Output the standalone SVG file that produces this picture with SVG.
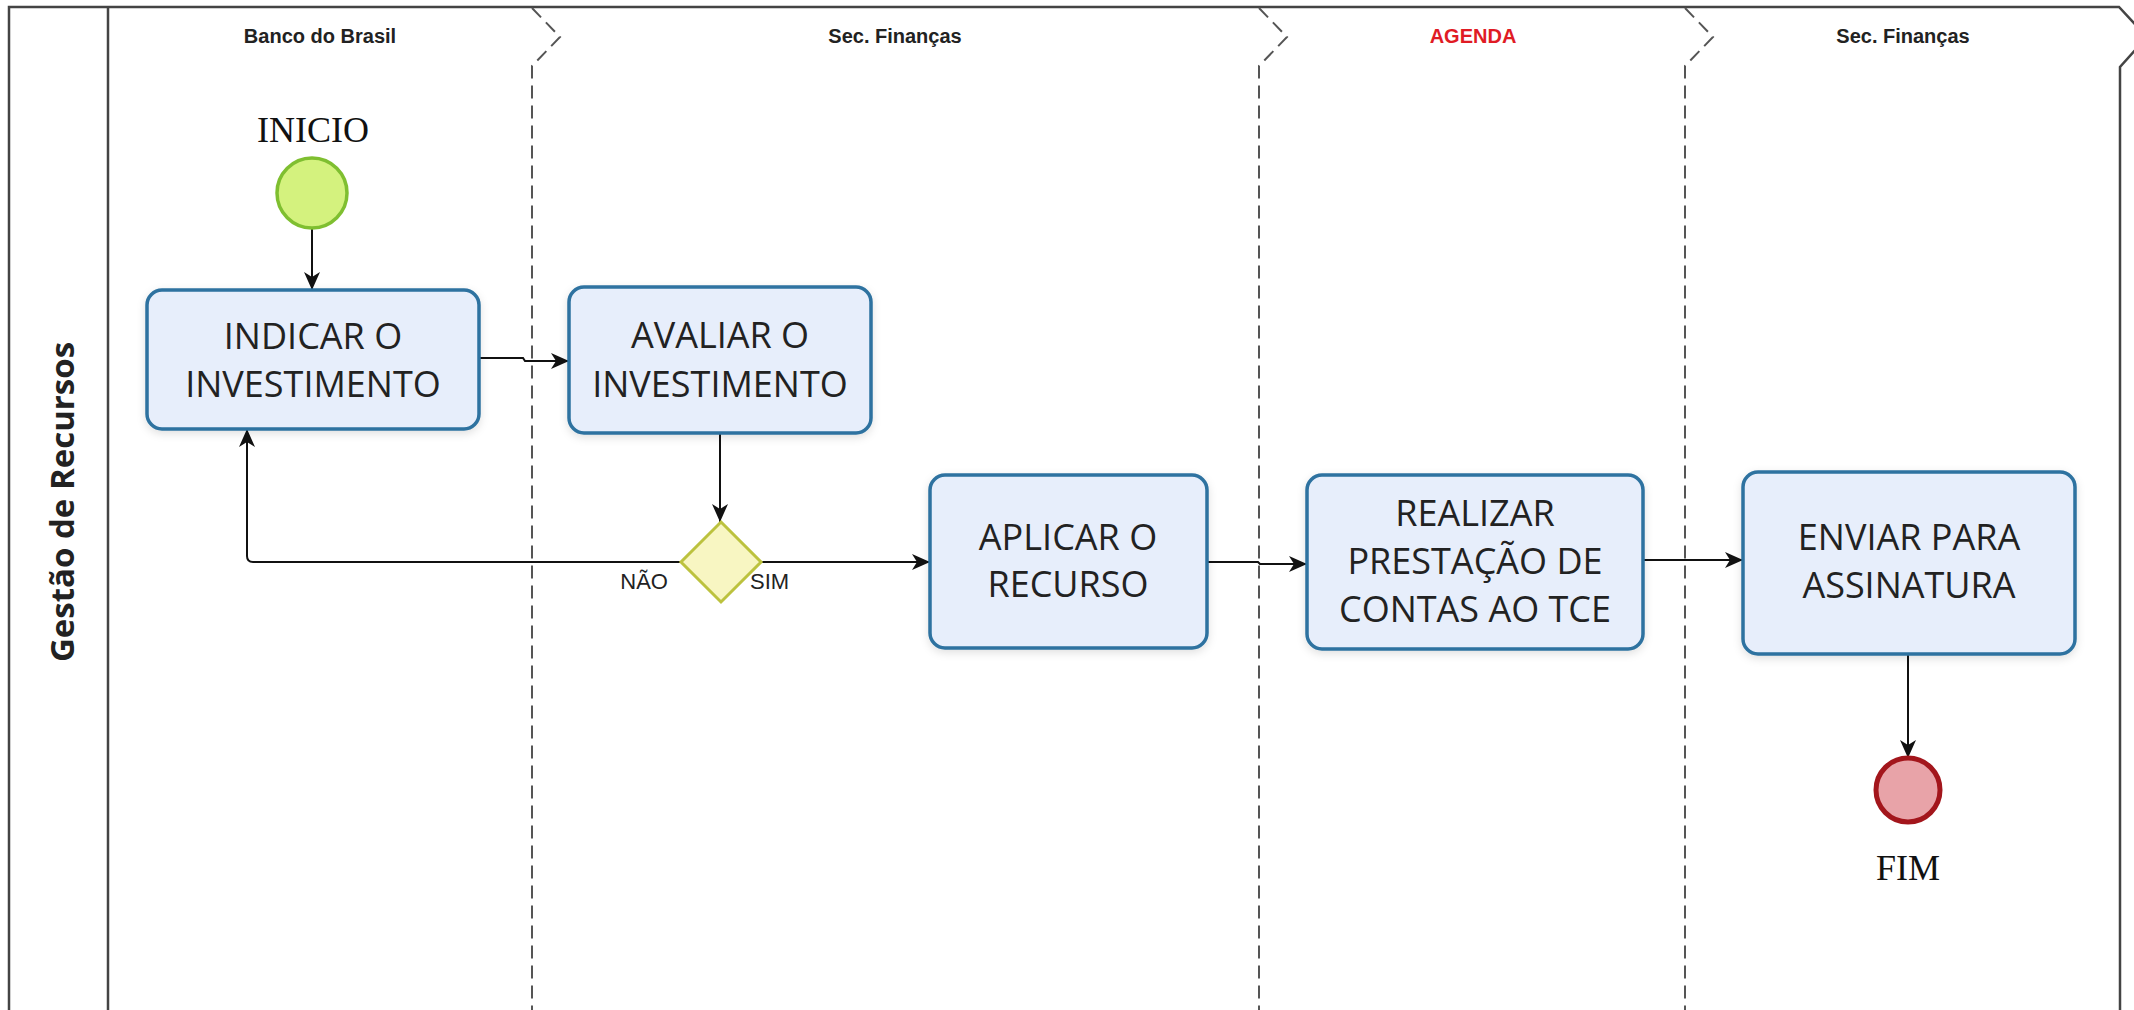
<svg xmlns="http://www.w3.org/2000/svg" width="2134" height="1010" viewBox="0 0 2134 1010">
<style>
.frame{fill:none;stroke:#444;stroke-width:2.5}
.sep{fill:none;stroke:#555;stroke-width:2;stroke-dasharray:13 7}
.lane{font-family:"Liberation Sans",Arial,sans-serif;font-weight:bold;font-size:20px;fill:#222;text-anchor:middle}
.pool{font-family:"Open Sans","Noto Sans",sans-serif;font-weight:bold;font-size:33px;fill:#222;text-anchor:middle}
.task rect{fill:#e7eefb;stroke:#2d72a0;stroke-width:3.5}
.task text{font-family:"Open Sans","Noto Sans",sans-serif;font-size:36px;fill:#222;text-anchor:middle}
.evlabel{font-family:"Liberation Serif","Times New Roman",serif;font-size:36px;fill:#111;text-anchor:middle}
.flow{fill:none;stroke:#111;stroke-width:2}
.glabel{font-family:"Liberation Sans",Arial,sans-serif;font-size:22px;fill:#222}
</style>
<defs>
<marker id="arr" markerUnits="userSpaceOnUse" markerWidth="20" markerHeight="18" refX="18" refY="8" orient="auto">
<path d="M0,0 L18,8 L0,16 L5,8 Z" fill="#111"/>
</marker>
<filter id="sh" x="-10%" y="-10%" width="120%" height="130%">
<feDropShadow dx="0" dy="3" stdDeviation="4" flood-color="#000" flood-opacity="0.12"/>
</filter>
</defs>
<rect width="2134" height="1010" fill="#fff"/>

<g id="pool">
<path class="frame" d="M9,1010 V7 H2119 L2147,37 L2120,67 V1010"/>
<line class="frame" x1="108" y1="7" x2="108" y2="1010"/>
<text class="pool" transform="translate(74,502) rotate(-90)">Gestão de Recursos</text>
</g>

<g id="lanes">
<path class="sep" d="M532,8 L560,37 L532,66 V1010"/>
<path class="sep" d="M1259,8 L1287,37 L1259,66 V1010"/>
<path class="sep" d="M1685,8 L1713,37 L1685,66 V1010"/>
<text class="lane" x="320" y="43">Banco do Brasil</text>
<text class="lane" x="895" y="43">Sec. Finanças</text>
<text class="lane" x="1473" y="43" style="fill:#e01b24">AGENDA</text>
<text class="lane" x="1903" y="43">Sec. Finanças</text>
</g>

<g id="connectors">
<path class="flow" d="M312,229 V290" marker-end="url(#arr)"/>
<path class="flow" d="M479,358 H523 L525,361 H569" marker-end="url(#arr)"/>
<path class="flow" d="M720,433 V522" marker-end="url(#arr)"/>
<path class="flow" d="M681,562 H253 Q247,562 247,556 V429" marker-end="url(#arr)"/>
<path class="flow" d="M761,562 H930" marker-end="url(#arr)"/>
<path class="flow" d="M1207,562 H1258 L1260,564 H1307" marker-end="url(#arr)"/>
<path class="flow" d="M1643,560 H1743" marker-end="url(#arr)"/>
<path class="flow" d="M1908,654 V758" marker-end="url(#arr)"/>
<text class="glabel" x="668" y="589" text-anchor="end">NÃO</text>
<text class="glabel" x="750" y="589">SIM</text>
</g>

<g id="start">
<circle cx="312" cy="193" r="35" fill="#d4f27e" stroke="#7fbf30" stroke-width="3.5"/>
<text class="evlabel" x="313" y="142">INICIO</text>
</g>

<g id="t1" class="task">
<rect x="147" y="290" width="332" height="139" rx="15" filter="url(#sh)"/>
<text x="313" y="349">INDICAR O</text>
<text x="313" y="397">INVESTIMENTO</text>
</g>

<g id="t2" class="task">
<rect x="569" y="287" width="302" height="146" rx="15" filter="url(#sh)"/>
<text x="720" y="348">AVALIAR O</text>
<text x="720" y="397">INVESTIMENTO</text>
</g>

<g id="gateway">
<path d="M721,522 L761,562 L721,602 L681,562 Z" fill="#f8f6c2" stroke="#bcc23e" stroke-width="3"/>
</g>

<g id="t3" class="task">
<rect x="930" y="475" width="277" height="173" rx="15" filter="url(#sh)"/>
<text x="1068" y="550">APLICAR O</text>
<text x="1068" y="597">RECURSO</text>
</g>

<g id="t4" class="task">
<rect x="1307" y="475" width="336" height="174" rx="15" filter="url(#sh)"/>
<text x="1475" y="526">REALIZAR</text>
<text x="1475" y="574">PRESTAÇÃO DE</text>
<text x="1475" y="622">CONTAS AO TCE</text>
</g>

<g id="t5" class="task">
<rect x="1743" y="472" width="332" height="182" rx="15" filter="url(#sh)"/>
<text x="1909" y="550">ENVIAR PARA</text>
<text x="1909" y="598">ASSINATURA</text>
</g>

<g id="end">
<circle cx="1908" cy="790" r="32" fill="#e8a3a8" stroke="#a3161c" stroke-width="5"/>
<text class="evlabel" x="1908" y="880">FIM</text>
</g>
</svg>
